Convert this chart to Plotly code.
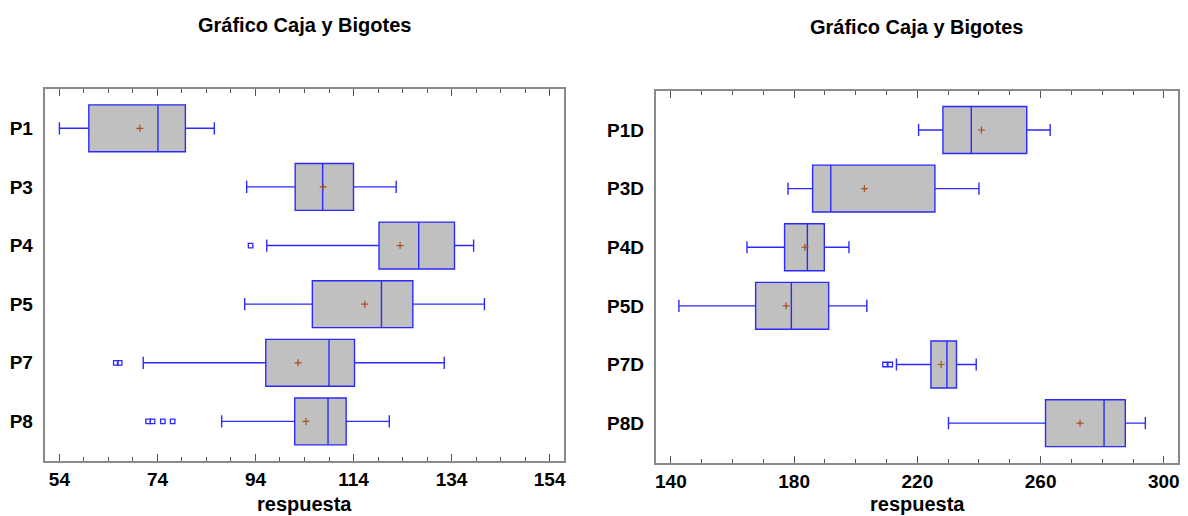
import plotly.graph_objects as go

# ---------------- data ----------------
cats_left = ["P1", "P3", "P4", "P5", "P7", "P8"]
q1_left = [60.0, 102.1, 119.2, 105.6, 96.1, 102.0]
med_left = [74.1, 107.7, 127.3, 119.7, 109.0, 108.8]
q3_left = [79.7, 114.0, 134.6, 126.1, 114.2, 112.5]
lo_left = [54.0, 92.2, 96.3, 91.8, 71.1, 87.1]
hi_left = [85.6, 122.7, 138.5, 140.7, 132.5, 121.3]
mean_left = [70.4, 107.8, 123.5, 116.3, 102.7, 104.3]
out_cat_left = ["P4", "P7", "P7", "P8", "P8", "P8", "P8"]
out_val_left = [93.0, 65.5, 66.3, 72.1, 73.0, 75.1, 77.1]

cats_right = ["P1D", "P3D", "P4D", "P5D", "P7D", "P8D"]
q1_right = [228.3, 186.0, 176.9, 167.5, 224.4, 261.6]
med_right = [237.5, 191.9, 184.3, 179.1, 229.6, 280.6]
q3_right = [255.5, 225.7, 189.8, 191.2, 232.7, 287.5]
lo_right = [220.4, 178.0, 164.7, 142.6, 213.2, 230.1]
hi_right = [263.1, 240.0, 197.8, 203.6, 239.1, 294.0]
mean_right = [240.8, 202.8, 183.5, 177.4, 227.7, 272.8]
out_cat_right = ["P7D", "P7D"]
out_val_right = [209.5, 211.2]

ticks_left = [54, 74, 94, 114, 134, 154]
ticks_right = [140, 180, 220, 260, 300]

title_text = "Gráfico Caja y Bigotes"
axis_title = "respuesta"

# ---------------- style ----------------
FONT = "Liberation Sans, Arial, sans-serif"
BLUE = "#2a2aff"
FILL = "#c0c0c0"
MEANC = "#a8501c"
GRAY = "#8a8a8a"

fig = go.Figure()


def add_panel(cats, q1, med, q3, lo, hi, mean, ocat, oval, xa, ya):
    fig.add_trace(go.Box(
        y=cats, q1=q1, median=med, q3=q3, lowerfence=lo, upperfence=hi,
        orientation="h", boxpoints=False, width=0.8, whiskerwidth=0.26,
        fillcolor=FILL, line=dict(color=BLUE, width=1.4),
        xaxis=xa, yaxis=ya, showlegend=False, hoverinfo="skip"))
    fig.add_trace(go.Scatter(
        x=mean, y=cats, mode="markers",
        marker=dict(symbol="cross-thin", size=5, line=dict(color=MEANC, width=1.2)),
        xaxis=xa, yaxis=ya, showlegend=False, hoverinfo="skip"))
    fig.add_trace(go.Scatter(
        x=oval, y=ocat, mode="markers",
        marker=dict(symbol="square-open", size=4.5, color=BLUE, line=dict(width=1.3)),
        xaxis=xa, yaxis=ya, showlegend=False, hoverinfo="skip"))


add_panel(cats_left, q1_left, med_left, q3_left, lo_left, hi_left, mean_left,
          out_cat_left, out_val_left, "x", "y")
add_panel(cats_right, q1_right, med_right, q3_right, lo_right, hi_right, mean_right,
          out_cat_right, out_val_right, "x2", "y2")


def xaxis_cfg(domain, rng, tickvals, minor_dtick, anchor):
    return dict(
        domain=domain, range=rng, anchor=anchor, tickvals=tickvals,
        ticktext=[str(v) for v in tickvals],
        ticks="inside", ticklen=7, tickwidth=1.3, tickcolor="#555555",
        minor=dict(tick0=tickvals[0], dtick=minor_dtick, ticks="inside",
                   ticklen=4, tickwidth=1.2, tickcolor="#555555"),
        showline=True, linecolor=GRAY, linewidth=2, mirror="allticks",
        showgrid=False, zeroline=False, automargin=False,
        tickfont=dict(family=FONT, size=19, color="black", weight="bold"),
    )


def yaxis_cfg(domain, cats, rng, anchor):
    return dict(
        domain=domain, type="category", categoryorder="array", categoryarray=cats,
        range=rng, anchor=anchor, ticks="", showline=True, linecolor=GRAY,
        linewidth=2, mirror=True, showgrid=False, zeroline=False,
        automargin=False, ticklabelstandoff=6,
        tickfont=dict(family=FONT, size=19, color="black", weight="bold"),
    )


W, H = 1188, 516
fig.update_layout(
    width=W, height=H,
    margin=dict(l=0, r=0, t=0, b=0),
    paper_bgcolor="white", plot_bgcolor="white",
    xaxis=xaxis_cfg([44.7 / W, 564.3 / W], [51, 157], ticks_left, 5, "y"),
    yaxis=yaxis_cfg([1 - 460.7 / H, 1 - 89 / H], cats_left, [5.67, -0.67], "x"),
    xaxis2=xaxis_cfg([655.8 / W, 1178.3 / W], [135.1, 304.7], ticks_right, 10, "y2"),
    yaxis2=yaxis_cfg([1 - 463 / H, 1 - 90.7 / H], cats_right, [5.68, -0.67], "x2"),
)

for x, y, txt, sz in [
    (304, 25, title_text, 20),
    (916.5, 27, title_text, 20),
    (304.5, 504, axis_title, 20),
    (917, 504, axis_title, 20),
]:
    fig.add_annotation(x=x / W, y=1 - y / H, xref="paper", yref="paper",
                       text=txt, showarrow=False, xanchor="center", yanchor="middle",
                       font=dict(family=FONT, size=sz, color="black", weight="bold"))

fig.write_html("out.html")
